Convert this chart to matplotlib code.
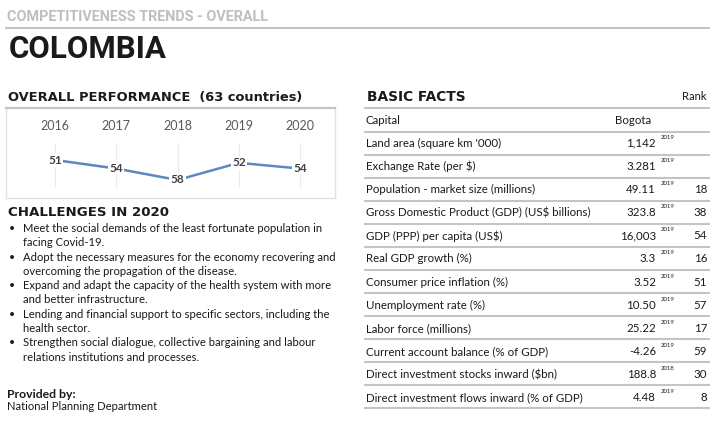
"""Competitiveness trends - overall: Colombia profile card."""
import matplotlib
matplotlib.use("Agg")
import matplotlib.pyplot as plt

years = [2016, 2017, 2018, 2019, 2020]
ranks = [51, 54, 58, 52, 54]

fact_labels = [
    "Capital",
    "Land area (square km '000)",
    "Exchange Rate (per $)",
    "Population - market size (millions)",
    "Gross Domestic Product (GDP) (US$ billions)",
    "GDP (PPP) per capita (US$)",
    "Real GDP growth (%)",
    "Consumer price inflation (%)",
    "Unemployment rate (%)",
    "Labor force (millions)",
    "Current account balance (% of GDP)",
    "Direct investment stocks inward ($bn)",
    "Direct investment flows inward (% of GDP)",
]
fact_values = ["Bogota", "1,142", "3.281", "49.11", "323.8", "16,003", "3.3",
               "3.52", "10.50", "25.22", "-4.26", "188.8", "4.48"]
fact_years = ["", "2019", "2019", "2019", "2019", "2019", "2019",
              "2019", "2019", "2019", "2019", "2018", "2019"]
fact_ranks = ["", "", "", "18", "38", "54", "16", "51", "57", "17", "59", "30", "8"]

challenges = [
    ["Meet the social demands of the least fortunate population in", "facing Covid-19."],
    ["Adopt the necessary measures for the economy recovering and",
     "overcoming the propagation of the disease."],
    ["Expand and adapt the capacity of the health system with more",
     "and better infrastructure."],
    ["Lending and financial support to specific sectors, including the", "health sector."],
    ["Strengthen social dialogue, collective bargaining and labour",
     "relations institutions and processes."],
]

W, H = 717, 424
BODY = "Lato"
HEAD = "Roboto"
TITLE = "DejaVu Sans"
GRAY_LINE = "#C4C4C4"
DARK = "#1A1A1A"

fig = plt.figure(figsize=(W / 100, H / 100), dpi=100, facecolor="white")
bg = fig.add_axes([0, 0, 1, 1])
bg.set_xlim(0, W)
bg.set_ylim(H, 0)
bg.axis("off")

# header
bg.text(7, 17, "COMPETITIVENESS TRENDS - OVERALL", family=HEAD, fontweight="bold",
        fontsize=10.4, color="#BFBFBF", va="center", ha="left")
bg.plot([5, 710], [28, 28], color=GRAY_LINE, lw=1.5, solid_capstyle="butt")
bg.text(9, 49, "COLOMBIA", family=HEAD, fontweight="bold", fontsize=22.5,
        color=DARK, va="center", ha="left")

# overall performance
bg.text(8, 97, "OVERALL PERFORMANCE  (63 countries)", family=TITLE, fontweight="bold",
        fontsize=9.4, color=DARK, va="center", ha="left")

ax = fig.add_axes([6 / W, (H - 198) / H, 329 / W, 90 / H])
ax.set_xlim(2015.2, 2020.57)
ax.set_ylim(64.3, 32.8)
for s in ["left", "right", "bottom"]:
    ax.spines[s].set_color("#DEE2E8")
    ax.spines[s].set_linewidth(1.0)
ax.spines["top"].set_color(GRAY_LINE)
ax.spines["top"].set_linewidth(1.6)
ax.set_xticks([])
ax.set_yticks([])
for yr in years:
    ax.axvline(yr, ymin=0.12, ymax=0.61, color="#EBEBEB", lw=0.8, zorder=0)
    ax.text(yr, 0.8, str(yr), transform=ax.get_xaxis_transform(), family=BODY,
            fontsize=9, color="#595959", ha="center", va="center")
ax.plot(years, ranks, color="#5B87C3", lw=1.8, zorder=1, solid_capstyle="butt")
for yr, rk in zip(years, ranks):
    ax.text(yr, rk, str(rk), family=BODY, fontweight="bold", fontsize=8.5,
            color="#404040", ha="center", va="center", zorder=2,
            bbox=dict(boxstyle="square,pad=0.1", fc="white", ec="none"))

# challenges
bg.text(8, 212, "CHALLENGES IN 2020", family=TITLE, fontweight="bold", fontsize=9.6,
        color=DARK, va="center", ha="left")
for i, lines in enumerate(challenges):
    y0 = 228.5 + 28.6 * i
    bg.text(9, y0, "\u2022", family=BODY, fontsize=7.5, color=DARK, va="center", ha="left")
    for j, line in enumerate(lines):
        bg.text(23, y0 + 14.2 * j, line, family=BODY, fontsize=8.1, color=DARK,
                va="center", ha="left")
bg.text(7, 394, "Provided by:", family=BODY, fontweight="bold", fontsize=8.8,
        color=DARK, va="center", ha="left")
bg.text(7, 407, "National Planning Department", family=BODY, fontsize=8.1,
        color=DARK, va="center", ha="left")

# basic facts table
bg.text(367, 97, "BASIC FACTS", family=TITLE, fontweight="bold", fontsize=9.9,
        color=DARK, va="center", ha="left")
bg.text(707, 97, "Rank", family=BODY, fontsize=8.1, color=DARK, va="center", ha="right")
bg.plot([364, 710], [108, 108], color=GRAY_LINE, lw=1.5, solid_capstyle="butt")
for i, (lab, val, yr, rk) in enumerate(zip(fact_labels, fact_values, fact_years, fact_ranks)):
    yc = 120 + 23.15 * i
    bg.text(366, yc, lab, family=BODY, fontsize=8.3, color=DARK, va="center", ha="left")
    bg.text(651 if i == 0 else 656, yc, val, family=BODY, fontsize=8.3, color=DARK,
            va="center", ha="right")
    if yr:
        bg.text(668, yc - 6, yr, family=BODY, fontsize=4.3, color=DARK,
                va="center", ha="center")
    if rk:
        bg.text(707, yc, rk, family=BODY, fontsize=8.3, color=DARK, va="center", ha="right")
    ysep = 131.7 + 23.06 * i
    bg.plot([364, 710], [ysep, ysep], color=GRAY_LINE, lw=1.5, solid_capstyle="butt")

fig.savefig("out.png", dpi=100, facecolor="white")
plt.close(fig)
